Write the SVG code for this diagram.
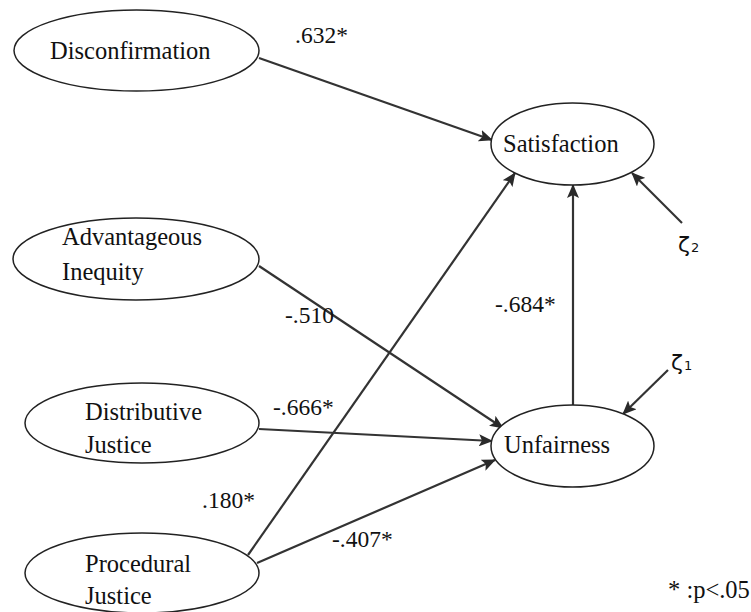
<svg xmlns="http://www.w3.org/2000/svg" width="751" height="612" viewBox="0 0 751 612">
<style>
.node ellipse{fill:#fff;stroke:#222;stroke-width:1.5}
.t{font-family:'Liberation Serif','Times New Roman',serif;font-size:24.5px;fill:#111}
.lbl{font-family:'Liberation Serif','Times New Roman',serif;font-size:23.5px;fill:#111}
.z{font-family:'DejaVu Sans',sans-serif;font-size:22px;fill:#111}
.zs{font-family:'DejaVu Sans',sans-serif;font-size:13px;fill:#111}
.edges line{stroke:#333;stroke-width:2.2;fill:none}
.arr{marker-end:url(#ah)}
</style>
<defs>
<marker id="ah" markerUnits="userSpaceOnUse" markerWidth="14" markerHeight="12" refX="13" refY="6" orient="auto">
<path d="M0,0 L14,6 L0,12 L3,6 Z" fill="#2a2a2a"/>
</marker>
</defs>
<rect width="751" height="612" fill="#fff"/>
<g class="edges">
<line class="arr" x1="259" y1="58" x2="492" y2="140"/>
<line class="arr" x1="248" y1="555" x2="515" y2="173"/>
<line class="arr" x1="573" y1="405" x2="573" y2="185"/>
<line class="arr" x1="682" y1="223" x2="632" y2="173"/>
<line class="arr" x1="259" y1="266" x2="503" y2="428"/>
<line class="arr" x1="259" y1="429" x2="492" y2="441"/>
<line class="arr" x1="257" y1="563" x2="495" y2="460"/>
<line class="arr" x1="668" y1="370" x2="623" y2="414"/>
</g>
<g id="disconfirmation" class="node">
<ellipse cx="136.5" cy="50.5" rx="122.5" ry="40.5"/>
<text class="t" x="50" y="59">Disconfirmation</text>
</g>
<g id="satisfaction" class="node">
<ellipse cx="572.5" cy="144" rx="81.5" ry="41"/>
<text class="t" x="503" y="152">Satisfaction</text>
</g>
<g id="advantageous" class="node">
<ellipse cx="136" cy="259" rx="123" ry="41"/>
<text class="t" x="62" y="245">Advantageous</text>
<text class="t" x="62" y="280">Inequity</text>
</g>
<g id="distributive" class="node">
<ellipse cx="142" cy="423" rx="117" ry="40"/>
<text class="t" x="85" y="420">Distributive</text>
<text class="t" x="85" y="453">Justice</text>
</g>
<g id="procedural" class="node">
<ellipse cx="142" cy="573" rx="117" ry="40"/>
<text class="t" x="85" y="572">Procedural</text>
<text class="t" x="85" y="604">Justice</text>
</g>
<g id="unfairness" class="node">
<ellipse cx="572.5" cy="446" rx="81.5" ry="41"/>
<text class="t" x="504" y="453">Unfairness</text>
</g>
<g id="labels">
<text class="lbl" x="295" y="43">.632*</text>
<text class="lbl" x="285" y="323">-.510</text>
<text class="lbl" x="495" y="312">-.684*</text>
<text class="lbl" x="273" y="415">-.666*</text>
<text class="lbl" x="202" y="508">.180*</text>
<text class="lbl" x="332" y="547">-.407*</text>
<text class="lbl" x="668" y="598" style="font-size:24.5px">* :p&lt;.05</text>
<text class="z" x="678" y="252">ζ<tspan class="zs" dx="1">2</tspan></text>
<text class="z" x="671" y="370">ζ<tspan class="zs" dx="1">1</tspan></text>
</g>
</svg>
